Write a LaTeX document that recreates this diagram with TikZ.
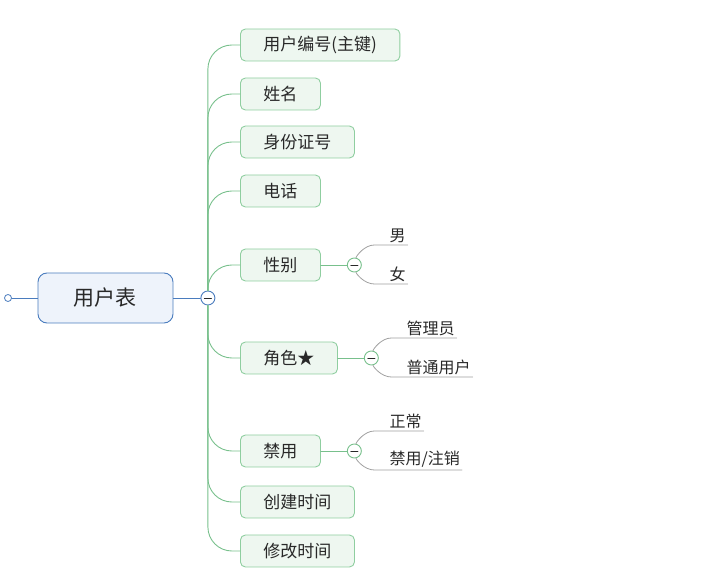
\documentclass[tikz,border=0pt]{standalone}
\usepackage{fontspec}
\newfontfamily\cjk{Noto Sans CJK SC}
\usetikzlibrary{positioning}
\definecolor{rootblue}{RGB}{74,124,190}
\definecolor{rootfill}{RGB}{238,243,251}
\definecolor{fieldline}{RGB}{143,206,160}
\definecolor{fieldfill}{RGB}{238,247,240}
\definecolor{trunk}{RGB}{120,192,140}
\definecolor{leafline}{RGB}{160,160,160}
\definecolor{ink}{RGB}{40,40,40}
\tikzset{
  every picture/.style={line join=round, line cap=round},
  root/.style={draw=rootblue, fill=rootfill, line width=0.9pt, rounded corners=9pt,
    minimum width=135pt, minimum height=50pt, text=ink, font=\cjk\fontsize{21}{21}\selectfont},
  field/.style={draw=fieldline, fill=fieldfill, line width=0.9pt, rounded corners=5pt,
    minimum height=32pt, inner xsep=23pt, anchor=west, text=ink, font=\cjk\fontsize{17}{17}\selectfont},
  fold/.style={circle, draw=#1, fill=white, line width=0.9pt, minimum size=14pt, inner sep=0pt,
    path picture={\draw[ink, line width=0.9pt] ([xshift=-3.5pt]path picture bounding box.center)
      -- ([xshift=3.5pt]path picture bounding box.center);}},
  fold/.default=trunk,
  leaf/.style={anchor=south west, inner xsep=0pt, inner ysep=2pt, text=ink,
    font=\cjk\fontsize{16}{16}\selectfont,
    execute at begin node=\hspace*{15pt}, execute at end node=\hspace*{2pt}},
  branch/.style={draw=trunk, line width=0.9pt},
  twig/.style={draw=leafline, line width=0.8pt},
}

\begin{document}
\begin{tikzpicture}[x=1pt,y=-1pt]
\useasboundingbox (0,0) rectangle (716,585);
% root
\node[root] (table) at (105.5,298) {用户表};
\node[circle, draw=rootblue, fill=white, line width=0.8pt, minimum size=7pt, inner sep=0pt] (dock) at (8,298) {};
\node[fold=rootblue, right=27pt of table] (tfold) {};
\draw[draw=rootblue, line width=0.9pt] (dock) -- (table);
\draw[draw=rootblue, line width=0.9pt] (table) -- (tfold);
% fields
\foreach \nm/\y/\txt in {id/45/用户编号(主键), uname/94/姓名, idcard/142/身份证号, phone/191/电话,
  gender/265/性别, role/358/角色★, ban/451/禁用, created/502/创建时间, modified/551/修改时间}
  \node[field] (\nm) at (240,\y) {\txt};
\foreach \nm in {id,uname,idcard,phone,gender,role,ban,created,modified}
  \draw[branch, rounded corners=24pt] (tfold) |- (\nm.west);
% sub folds
\node[fold, right=26pt of gender] (gfold) {};
\node[fold, right=26pt of role] (rfold) {};
\node[fold, right=26pt of ban] (bfold) {};
\draw[branch] (gender) -- (gfold);
\draw[branch] (role) -- (rfold);
\draw[branch] (ban) -- (bfold);
% leaves
\node[leaf] (male) at ([xshift=20pt,yshift=20pt]gfold) {男};
\node[leaf] (female) at ([xshift=20pt,yshift=-19pt]gfold) {女};
\node[leaf] (admin) at ([xshift=20pt,yshift=20pt]rfold) {管理员};
\node[leaf] (common) at ([xshift=20pt,yshift=-19pt]rfold) {普通用户};
\node[leaf] (normal) at ([xshift=20pt,yshift=20pt]bfold) {正常};
\node[leaf] (banned) at ([xshift=20pt,yshift=-19pt]bfold) {禁用/注销};
\draw[twig] (gfold) .. controls +(2,-9) and +(-10,0) .. (male.south west) -- (male.south east);
\draw[twig] (gfold) .. controls +(2,9) and +(-10,0) .. (female.south west) -- (female.south east);
\draw[twig] (rfold) .. controls +(2,-9) and +(-10,0) .. (admin.south west) -- (admin.south east);
\draw[twig] (rfold) .. controls +(2,9) and +(-10,0) .. (common.south west) -- (common.south east);
\draw[twig] (bfold) .. controls +(2,-9) and +(-10,0) .. (normal.south west) -- (normal.south east);
\draw[twig] (bfold) .. controls +(2,9) and +(-10,0) .. (banned.south west) -- (banned.south east);
\end{tikzpicture}
\end{document}
